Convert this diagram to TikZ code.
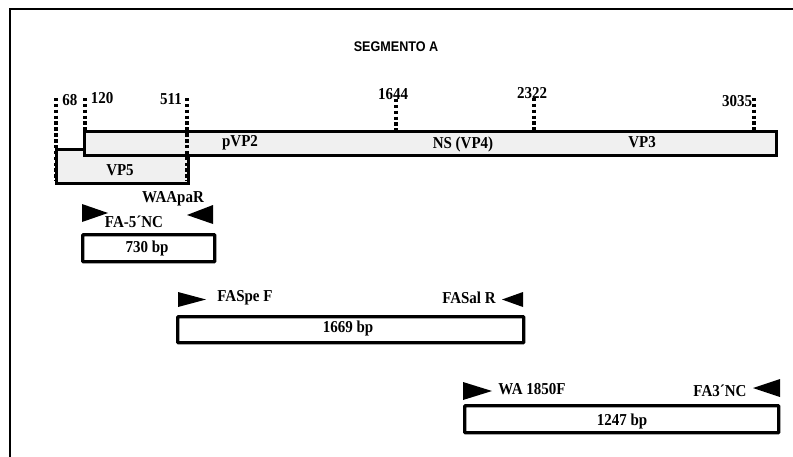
\documentclass[tikz,border=0pt]{standalone}
\usepackage{fontspec}
\setmainfont{Liberation Serif}[FakeStretch=0.9]
\newfontfamily\headfont{Liberation Sans}[FakeStretch=0.9]
\begin{document}
\begin{tikzpicture}[x=0.75pt,y=-0.75pt,
  lbl/.style={font=\fontsize{12.5}{13}\selectfont\bfseries, inner sep=0pt},
  num/.style={font=\fontsize{12.5}{13}\selectfont\bfseries, inner sep=0pt},
  bar/.style={draw=black, line width=2.4pt, fill=gray!12},
  pcr/.style={draw=black, line width=2.6pt, fill=white, rounded corners=0.6pt},
  dotline/.style={line width=2.6pt, dash pattern=on 2.6pt off 1.8pt},
  primer/.style={fill=black}]
\useasboundingbox (0,0) rectangle (793,457);
% frame (top and left edges)
\draw[line width=1.6pt] (10,457) -- (10,9) -- (793,9);
\node[font=\headfont\fontsize{10.5}{12}\selectfont\bfseries] (title) at (396,47) {SEGMENTO A};
% genome bars
\node[bar, minimum width=132*0.75pt, minimum height=34*0.75pt, anchor=north west, inner sep=0pt] (vp5) at (55,148) {};
\node[bar, minimum width=692*0.75pt, minimum height=24*0.75pt, anchor=north west, inner sep=0pt] (main) at (83,130) {};
\node[lbl] at (120,170) {VP5};
\node[lbl] at (240,143) {pVP2};
\node[lbl] at (463,144) {NS (VP4)};
\node[lbl] at (642,142) {VP3};
% position marks
\coordinate (t68) at (56,98);
\coordinate (t120) at (85,98);
\coordinate (t511) at (187,98);
\coordinate (t1644) at (396,99);
\coordinate (t2322) at (534,98);
\coordinate (t3035) at (754,98);
\draw[dotline] (t68) -- (56,181);
\draw[dotline] (t120) -- (85,131);
\draw[dotline] (t511) -- (187,181);
\draw[dotline] (t1644) -- (396,130);
\draw[dotline] (t2322) -- (534,130);
\draw[dotline] (t3035) -- (754,130);
\node[num] at (70,100) {68};
\node[num] at (102,98) {120};
\node[num] at (171,99) {511};
\node[num] at (393,94) {1644};
\node[num] at (532,93) {2322};
\node[num] at (737,101) {3035};
% amplicon 1
\fill[primer] (82,204) -- (108,213) -- (82,222) -- cycle;
\fill[primer] (213,205) -- (187,215) -- (213,224) -- cycle;
\node[lbl] at (173,199) {WAApaR};
\node[lbl] at (134,222) {FA-5´NC};
\node[pcr, minimum width=132*0.75pt, minimum height=27*0.75pt, anchor=north west, inner sep=0pt] (a1) at (81,233) {};
\node[lbl] at (147,248) {730 bp};
% amplicon 2
\fill[primer] (178,292) -- (206,299.5) -- (178,307) -- cycle;
\fill[primer] (523,292) -- (502,299.5) -- (523,307) -- cycle;
\node[lbl] at (245,298) {FASpe F};
\node[lbl] at (469,298) {FASal R};
\node[pcr, minimum width=346*0.75pt, minimum height=26*0.75pt, anchor=north west, inner sep=0pt] (a2) at (176,315) {};
\node[lbl] at (348,328) {1669 bp};
% amplicon 3
\fill[primer] (463,382) -- (492,391) -- (463,400) -- cycle;
\fill[primer] (780,379) -- (753,388) -- (780,397) -- cycle;
\node[lbl] at (532,389) {WA 1850F};
\node[lbl] at (720,391) {FA3´NC};
\node[pcr, minimum width=314*0.75pt, minimum height=27*0.75pt, anchor=north west, inner sep=0pt] (a3) at (463,404) {};
\node[lbl] at (622,421) {1247 bp};
\end{tikzpicture}
\end{document}
